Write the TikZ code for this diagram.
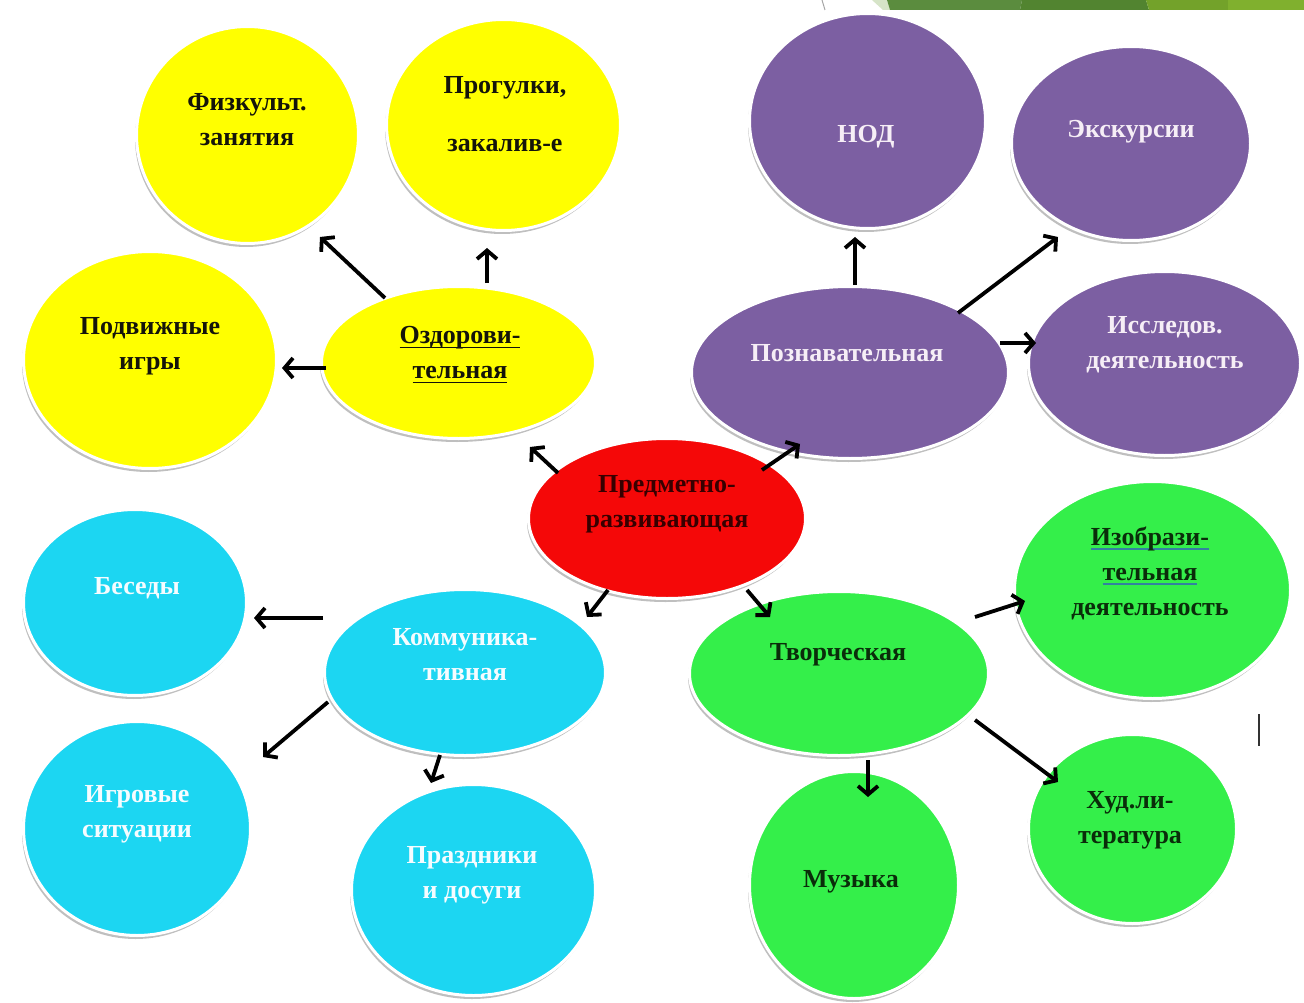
\documentclass[tikz,border=0pt]{standalone}
\usepackage{fontspec}
\setmainfont{Liberation Serif}
\usetikzlibrary{shapes.geometric,arrows.meta,shadows}
\definecolor{cY}{RGB}{255,255,0}
\definecolor{cP}{RGB}{124,95,162}
\definecolor{cR}{RGB}{245,8,8}
\definecolor{cC}{RGB}{28,214,242}
\definecolor{cG}{RGB}{52,239,74}
\definecolor{tY}{RGB}{20,20,10}
\definecolor{tR}{RGB}{55,0,0}
\definecolor{tP}{RGB}{246,238,246}
\definecolor{tC}{RGB}{246,252,255}
\definecolor{tG}{RGB}{10,45,10}
\definecolor{ulB}{RGB}{50,130,160}
\definecolor{gA}{RGB}{214,228,200}
\definecolor{gB}{RGB}{91,140,62}
\definecolor{gC}{RGB}{82,132,48}
\definecolor{gD}{RGB}{115,162,42}
\definecolor{gE}{RGB}{128,176,46}
\newcommand\tf{\fontsize{26}{35}\selectfont\bfseries}
\newcommand\wul[2]{\leavevmode\setbox0=\hbox{#2}\rlap{\color{#1}\rule[-5pt]{\wd0}{1.6pt}}\box0}
\tikzset{
  bub/.style={ellipse, draw=white, line width=3pt, inner sep=0pt,
    drop shadow={shadow xshift=-1.5pt, shadow yshift=-3.5pt, fill=black!55, opacity=0.45}},
  txt/.style={font=\tf, align=center, inner sep=0pt},
  arr/.style={line width=3.8pt, -{Straight Barb[length=8.5pt,width=20pt]}},
}
\begin{document}
\begin{tikzpicture}[x=1pt,y=-1pt]
\useasboundingbox (0,0) rectangle (1304,1003);
\fill[white] (0,0) rectangle (1304,1003);
% top banner
\fill[gA] (872,0) -- (887,0) -- (890,10) -- (883,10) -- cycle;
\fill[gB] (887,0) -- (1022,0) -- (1020,10) -- (890,10) -- cycle;
\fill[gC] (1022,0) -- (1146,0) -- (1149,10) -- (1020,10) -- cycle;
\fill[gD] (1146,0) -- (1228,0) -- (1228,10) -- (1149,10) -- cycle;
\fill[gE] (1228,0) -- (1304,0) -- (1304,10) -- (1228,10) -- cycle;
\draw[gray!70, line width=1pt] (822,0) -- (825,10);
\draw[gray!40!black, line width=1.5pt] (1259,714) -- (1259,746);
% bubbles
\node[bub, fill=cY, minimum width=222pt, minimum height=217pt] (fiz) at (247.5,135) {};
\node[bub, fill=cY, minimum width=234pt, minimum height=211pt] (prog) at (503.5,125) {};
\node[bub, fill=cY, minimum width=253pt, minimum height=217pt] (podv) at (150,360) {};
\node[bub, fill=cY, minimum width=274pt, minimum height=152pt] (ozd) at (458.5,362.5) {};
\node[bub, fill=cP, minimum width=236pt, minimum height=215pt] (nod) at (867.5,121) {};
\node[bub, fill=cP, minimum width=239pt, minimum height=194pt] (eks) at (1131,143.5) {};
\node[bub, fill=cP, minimum width=317pt, minimum height=172pt] (pozn) at (850,372.5) {};
\node[bub, fill=cP, minimum width=272pt, minimum height=184pt] (issl) at (1164.5,363.5) {};
\node[bub, fill=cR, minimum width=277pt, minimum height=160pt] (red) at (667,518.5) {};
\node[bub, fill=cC, minimum width=223pt, minimum height=186pt] (bes) at (135,602.5) {};
\node[bub, fill=cC, minimum width=281pt, minimum height=166pt] (kom) at (465,672.5) {};
\node[bub, fill=cC, minimum width=227pt, minimum height=214pt] (igr) at (137,828.5) {};
\node[bub, fill=cC, minimum width=244pt, minimum height=211pt] (pra) at (473.5,890) {};
\node[bub, fill=cG, minimum width=299pt, minimum height=164pt] (tvo) at (839,673.5) {};
\node[bub, fill=cG, minimum width=276pt, minimum height=217pt] (izo) at (1152.5,590) {};
\node[bub, fill=cG, minimum width=209pt, minimum height=227pt] (muz) at (854,885) {};
\node[bub, fill=cG, minimum width=208pt, minimum height=189pt] (hud) at (1132.5,829) {};
% arrows
\draw[arr] ([shift={(-73.5,-64.5)}]ozd.center) -- ([shift={(72.5,102)}]fiz.center);
\draw[arr] ([shift={(28.5,-79.5)}]ozd.center) -- ([shift={(-16.5,123)}]prog.center);
\draw[arr] ([shift={(-132.5,5.5)}]ozd.center) -- ([shift={(132,8)}]podv.center);
\draw[arr] ([shift={(-109,-45.5)}]red.center) -- ([shift={(71.5,84.5)}]ozd.center);
\draw[arr] ([shift={(95,-48.5)}]red.center) -- ([shift={(-50,71.5)}]pozn.center);
\draw[arr] ([shift={(5,-87.5)}]pozn.center) -- ([shift={(-12.5,116)}]nod.center);
\draw[arr] ([shift={(108,-59.5)}]pozn.center) -- ([shift={(-73,93.5)}]eks.center);
\draw[arr] ([shift={(150,-29.5)}]pozn.center) -- ([shift={(-128.5,-20.5)}]issl.center);
\draw[arr] ([shift={(-59,71.5)}]red.center) -- ([shift={(122,-55.5)}]kom.center);
\draw[arr] ([shift={(80,71.5)}]red.center) -- ([shift={(-69,-56.5)}]tvo.center);
\draw[arr] ([shift={(-142,-54.5)}]kom.center) -- ([shift={(119,15.5)}]bes.center);
\draw[arr] ([shift={(-137,29.5)}]kom.center) -- ([shift={(126,-71.5)}]igr.center);
\draw[arr] ([shift={(-25,82.5)}]kom.center) -- ([shift={(-42.5,-107)}]pra.center);
\draw[arr] ([shift={(136,-56.5)}]tvo.center) -- ([shift={(-127.5,11)}]izo.center);
\draw[arr] ([shift={(29,86.5)}]tvo.center) -- ([shift={(14,-88)}]muz.center);
\draw[arr] ([shift={(136,46.5)}]tvo.center) -- ([shift={(-74.5,-47)}]hud.center);
% texts
\node[txt, text=tY] (fiz-t) at (247,119.5) {Физкульт.\\занятия};
\node[txt, text=tY] (prog-t) at (505,114) {Прогулки,\\[23pt]закалив-е};
\node[txt, text=tY] (podv-t) at (150,346) {Подвижные\\игры};
\node[txt, text=tY] (ozd-t) at (460,354.5) {\wul{tY}{Оздорови-}\\\wul{tY}{тельная}};
\node[txt, text=tP] (nod-t) at (866,137) {НОД};
\node[txt, text=tP] (eks-t) at (1131,132) {Экскурсии};
\node[txt, text=tP] (pozn-t) at (847,353) {Познавательная};
\node[txt, text=tP] (issl-t) at (1165,344.5) {Исследов.\\деятельность};
\node[txt, text=tR] (red-t) at (667,504) {Предметно-\\развивающая};
\node[txt, text=tC] (bes-t) at (137,588) {Беседы};
\node[txt, text=tC] (kom-t) at (465,654.5) {Коммуника-\\тивная};
\node[txt, text=tC] (igr-t) at (137,814.5) {Игровые\\ситуации};
\node[txt, text=tC] (pra-t) at (472,875.5) {Праздники\\и досуги};
\node[txt, text=tG] (tvo-t) at (838,655) {Творческая};
\node[txt, text=tG] (izo-t) at (1150,573) {\wul{ulB}{Изобрази-}\\\wul{ulB}{тельная}\\деятельность};
\node[txt, text=tG] (muz-t) at (851,882) {Музыка};
\node[txt, text=tG] (hud-t) at (1130,820.5) {Худ.ли-\\тература};
\end{tikzpicture}
\end{document}
